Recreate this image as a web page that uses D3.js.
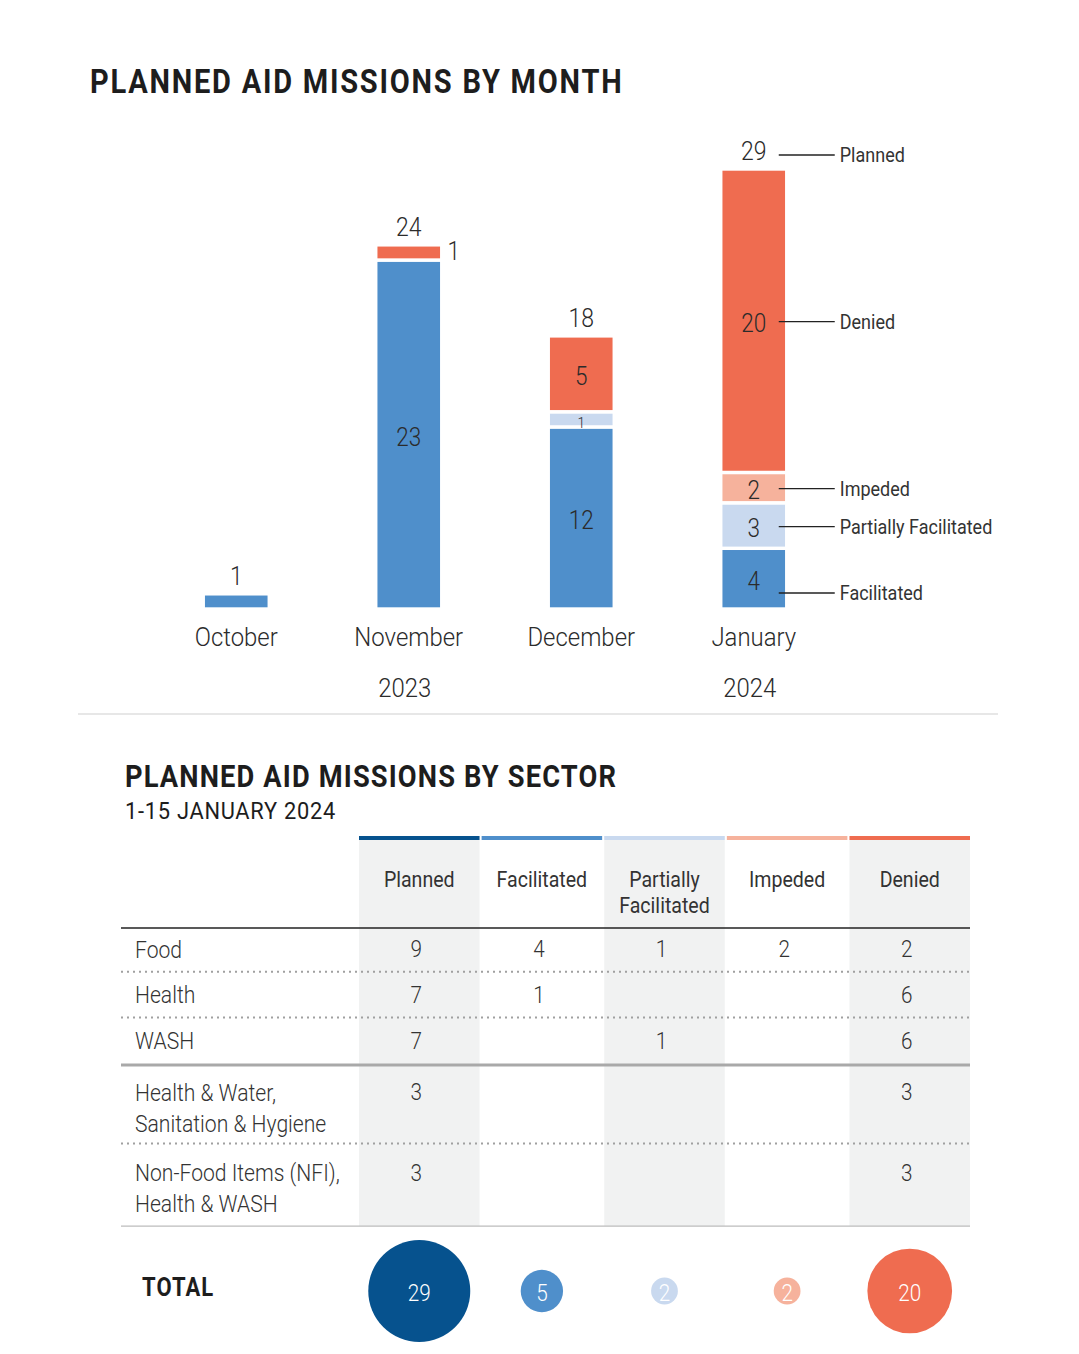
<!DOCTYPE html>
<html>
<head>
<meta charset="utf-8">
<script src="https://cdn.jsdelivr.net/npm/d3@7"></script>
<style>
  html, body { margin: 0; padding: 0; background: #fff; }
  svg text { font-family: Roboto, "Noto Sans", sans-serif; }
</style>
</head>
<body>
<div id="chart"></div>
<script>
// ---- data: missions by month ----
const months = ["October", "November", "December", "January"];
const statuses = ["Facilitated", "Partially Facilitated", "Impeded", "Denied"];
const facilitated = [1, 23, 12, 4];
const partiallyFacilitated = [0, 0, 1, 3];
const impeded = [0, 0, 0, 2];
const denied = [0, 1, 5, 20];
const planned = [1, 24, 18, 29];
const years = [
  { label: "2023", months: ["October", "November", "December"] },
  { label: "2024", months: ["January"] },
];

// ---- data: missions by sector (1-15 Jan 2024) ----
const columns = ["Planned", "Facilitated", "Partially Facilitated", "Impeded", "Denied"];
const columnHeaders = [["Planned"], ["Facilitated"], ["Partially", "Facilitated"], ["Impeded"], ["Denied"]];
const sectors = [
  ["Food"],
  ["Health"],
  ["WASH"],
  ["Health & Water,", "Sanitation & Hygiene"],
  ["Non-Food Items (NFI),", "Health & WASH"],
];
const sectorValues = [
  [9, 4, 1, 2, 2],
  [7, 1, null, null, 6],
  [7, null, 1, null, 6],
  [3, null, null, null, 3],
  [3, null, null, null, 3],
];
const totals = [29, 5, 2, 2, 20];

const colour = {
  "Planned": "#06528e",
  "Facilitated": "#4f8fcb",
  "Partially Facilitated": "#c9d9ef",
  "Impeded": "#f6b29c",
  "Denied": "#ef6c50",
};
const ink = "#2b2b2b";

const W = 1079, H = 1354;
const svg = d3.select("#chart").append("svg")
  .attr("xmlns", "http://www.w3.org/2000/svg")
  .attr("width", W).attr("height", H);

// condensed text helper (no condensed font installed)
function label(parent, x, y, s, o = {}) {
  const g = parent.append("g")
    .attr("transform", "translate(" + x + "," + y + ") scale(" + (o.sx || 0.9) + ",1)");
  return g.append("text")
    .attr("text-anchor", o.anchor || "middle")
    .attr("dy", o.dy == null ? "0.36em" : o.dy)
    .attr("font-size", o.size || 24)
    .attr("font-weight", o.weight || 300)
    .attr("letter-spacing", o.ls || 0)
    .attr("fill", o.fill || ink)
    .text(s);
}

/*******************************************************
 *                 Chart 1: by month                   *
 *******************************************************/
label(svg, 90, 81, "PLANNED AID MISSIONS BY MONTH", { anchor: "start", size: 33, weight: 700, ls: 2, sx: 0.88, fill: "#1d1d1d" });

const x = d3.scalePoint().domain(months).range([150, 840]).padding(0.5);
const y = d3.scaleLinear().domain([0, 29]).range([609, 169]);
const barW = 66;

const stackRows = months.map((m, i) => ({
  month: m,
  "Facilitated": facilitated[i],
  "Partially Facilitated": partiallyFacilitated[i],
  "Impeded": impeded[i],
  "Denied": denied[i],
}));
const series = d3.stack().keys(statuses)(stackRows);

const bars = svg.append("g");
series.forEach((s) => {
  s.forEach((d) => {
    const v = d[1] - d[0];
    if (!v) return;
    bars.append("rect")
      .attr("x", x(d.data.month) - barW / 2)
      .attr("y", y(d[1]))
      .attr("width", barW)
      .attr("height", y(d[0]) - y(d[1]))
      .attr("fill", colour[s.key])
      .attr("stroke", "#fff")
      .attr("stroke-width", 3.4);
    const h = y(d[0]) - y(d[1]);
    if (h > 25) {
      label(bars, x(d.data.month), (y(d[0]) + y(d[1])) / 2 + 2, v, { size: 25 });
    } else if (d.data.month !== "October") {
      if (s.key === "Denied" && d.data.month === "November") {
        label(bars, x(d.data.month) + barW / 2 + 12, (y(d[0]) + y(d[1])) / 2 - 1, v, { size: 25 });
      } else {
        label(bars, x(d.data.month), (y(d[0]) + y(d[1])) / 2 + 3, v, { size: 15 });
      }
    }
  });
});

// totals above bars
months.forEach((m, i) => {
  label(svg, x(m), y(planned[i]) - 18, planned[i], { size: 25, sx: 0.92 });
});

// month labels
months.forEach((m) => label(svg, x(m), 637, m, { size: 26, sx: 0.92 }));
years.forEach((yr) => {
  const mx = d3.mean(yr.months, (m) => x(m));
  label(svg, mx - 4, 688, yr.label, { size: 26, sx: 0.92 });
});

// legend leaders for January
const jan = months.length - 1;
const janStack = series.map((s) => s[jan]);
const leaders = [
  { name: "Planned", y: y(planned[jan]) - 15 },
].concat(janStack.slice().reverse().map((d, k) => {
  const key = statuses[statuses.length - 1 - k];
  let yy = (y(d[0]) + y(d[1])) / 2;
  if (key === "Facilitated") yy = y(d[0]) - 17;
  return { name: key, y: yy };
}));
leaders.forEach((l) => {
  svg.append("line")
    .attr("x1", x("January") + barW / 2 - 8).attr("x2", x("January") + barW / 2 + 48)
    .attr("y1", l.y + 1).attr("y2", l.y + 1)
    .attr("stroke", "#222").attr("stroke-width", 1.3);
  label(svg, x("January") + barW / 2 + 53, l.y + 1, l.name, { anchor: "start", size: 20, weight: 400, sx: 0.9, fill: "#333" });
});

svg.append("line")
  .attr("x1", 78).attr("x2", 998).attr("y1", 714).attr("y2", 714)
  .attr("stroke", "#d0d0d0").attr("stroke-width", 1.2);

/*******************************************************
 *                Chart 2: by sector                   *
 *******************************************************/
label(svg, 125, 776, "PLANNED AID MISSIONS BY SECTOR", { anchor: "start", size: 31, weight: 700, ls: 1.3, sx: 0.88, fill: "#1d1d1d" });
label(svg, 125, 810, "1-15 JANUARY 2024", { anchor: "start", size: 24, weight: 400, ls: 0.8, sx: 0.91, fill: "#1d1d1d" });

const colX = d3.scaleBand().domain(columns).range([359, 970]).paddingInner(0.017);
const tableLeft = 121, tableRight = 970;
const headTop = 836, headBottom = 928;

// row layout from number of label lines
let rowY = headBottom;
const rows = sectors.map((lines, i) => {
  const h = lines.length > 1 ? 80.5 : 45.7;
  const r = { lines, values: sectorValues[i], top: rowY, h };
  rowY += h;
  return r;
});
const tableBottom = rowY;

// shaded columns
columns.forEach((c, i) => {
  if (i % 2 === 0) {
    svg.append("rect")
      .attr("x", colX(c)).attr("y", headTop + 4)
      .attr("width", colX.bandwidth()).attr("height", tableBottom - headTop - 4)
      .attr("fill", "#f1f2f2");
  }
  svg.append("rect")
    .attr("x", colX(c)).attr("y", headTop)
    .attr("width", colX.bandwidth()).attr("height", 4)
    .attr("fill", colour[c]);
  const hl = columnHeaders[i];
  hl.forEach((t, k) => label(svg, colX(c) + colX.bandwidth() / 2, 879 + k * 26, t, { size: 22, weight: 400, sx: 0.89, fill: "#333" }));
});

svg.append("line")
  .attr("x1", tableLeft).attr("x2", tableRight).attr("y1", headBottom).attr("y2", headBottom)
  .attr("stroke", "#222").attr("stroke-width", 1.6);

rows.forEach((r, i) => {
  const first = r.top + (r.lines.length > 1 ? 27 : 21);
  r.lines.forEach((t, k) => label(svg, 135, first + k * 31, t, { anchor: "start", size: 24, sx: 0.88, fill: "#333" }));
  r.values.forEach((v, j) => {
    if (v == null) return;
    label(svg, colX(columns[j]) + colX.bandwidth() / 2 - 3, first, v, { size: 23, fill: "#333" });
  });
  const yb = r.top + r.h - 2;
  const line = svg.append("line")
    .attr("x1", tableLeft).attr("x2", tableRight).attr("y1", yb).attr("y2", yb);
  if (i === 2) {
    line.attr("stroke", "#a9a9a9").attr("stroke-width", 3).attr("y1", yb + 2).attr("y2", yb + 2);
  } else if (i === rows.length - 1) {
    line.attr("stroke", "#bcbcbc").attr("stroke-width", 1.3).attr("y1", yb + 2).attr("y2", yb + 2);
  } else {
    line.attr("stroke", "#a0a0a0").attr("stroke-width", 2)
      .attr("stroke-dasharray", "2,4").attr("stroke-linecap", "butt");
  }
});

// totals
label(svg, 142, 1287, "TOTAL", { anchor: "start", size: 25, weight: 700, ls: 1.2, sx: 0.88, fill: "#1d1d1d" });
const rScale = d3.scaleSqrt().domain([0, 29]).range([0, 51]);
totals.forEach((v, j) => {
  const px = colX(columns[j]) + colX.bandwidth() / 2;
  svg.append("circle")
    .attr("cx", px).attr("cy", 1291).attr("r", rScale(v))
    .attr("fill", colour[columns[j]]);
  label(svg, px, 1293, v, { size: 23, fill: "#fff" });
});
</script>
</body>
</html>
